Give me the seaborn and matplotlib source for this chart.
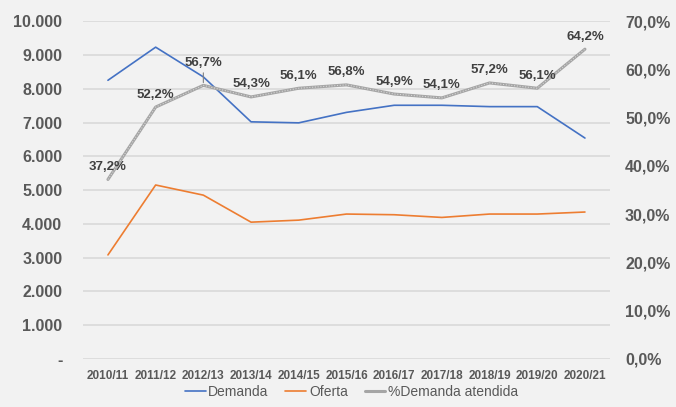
import seaborn as sns
import matplotlib.pyplot as plt
from matplotlib.lines import Line2D
import numpy as np
import pandas as pd

# Dados
safras = ['2010/11', '2011/12', '2012/13', '2013/14', '2014/15', '2015/16',
          '2016/17', '2017/18', '2018/19', '2019/20', '2020/21']
demanda = [8250, 9230, 8350, 7020, 6990, 7300, 7510, 7510, 7470, 7470, 6540]
oferta = [3080, 5150, 4850, 4050, 4110, 4290, 4270, 4190, 4290, 4290, 4350]
pct_atendida = [37.2, 52.2, 56.7, 54.3, 56.1, 56.8, 54.9, 54.1, 57.2, 56.1, 64.2]

left_ticks = [0, 1000, 2000, 3000, 4000, 5000, 6000, 7000, 8000, 9000, 10000]
left_labels = ['-', '1.000', '2.000', '3.000', '4.000', '5.000',
               '6.000', '7.000', '8.000', '9.000', '10.000']
right_ticks = [0, 10, 20, 30, 40, 50, 60, 70]
right_labels = ['0,0%', '10,0%', '20,0%', '30,0%', '40,0%', '50,0%', '60,0%', '70,0%']

df = pd.DataFrame({
    'pos': np.arange(len(safras)),
    'Demanda': demanda,
    'Oferta': oferta,
    'pct': pct_atendida,
})

bg = '#f2f2f2'
azul = '#4472c4'
laranja = '#ed7d31'
cinza = '#a5a5a5'
txt = '#595959'

sns.set_style('white', {'axes.grid': False})
plt.rcParams['font.family'] = ['Liberation Sans', 'DejaVu Sans']

fig = plt.figure(figsize=(6.76, 4.07), dpi=100, facecolor=bg)
ax = fig.add_axes([0.123, 0.118, 0.779, 0.830], facecolor=bg)
ax2 = ax.twinx()

# Linhas de grade
for t in left_ticks:
    ax.axhline(t, color='#d9d9d9', lw=1.2, zorder=0)

sns.lineplot(data=df, x='pos', y='Demanda', ax=ax, color=azul, lw=1.2)
sns.lineplot(data=df, x='pos', y='Oferta', ax=ax, color=laranja, lw=1.2)

sns.lineplot(data=df, x='pos', y='pct', ax=ax2, color=cinza, lw=2.2)
sns.lineplot(data=df, x='pos', y='pct', ax=ax2, color='#d6d6d6', lw=0.8,
             linestyle=(0, (1, 1.5)))

ax.set_ylim(0, 10000)
ax2.set_ylim(0, 70)
ax.set_xlim(-0.52, len(safras) - 0.48)

ax.set_xticks(df['pos'])
ax.set_xticklabels(safras, fontsize=8.5, fontweight='bold', color=txt)
ax.set_yticks(left_ticks)
ax.set_yticklabels(left_labels, fontsize=11.5, fontweight='bold', color=txt)
ax2.set_yticks(right_ticks)
ax2.set_yticklabels(right_labels, fontsize=11.5, fontweight='bold', color=txt)

ax.tick_params(axis='x', length=0, pad=8)
ax.tick_params(axis='y', length=0, pad=15)
ax2.tick_params(axis='y', length=0, pad=11)
ax.set_xlabel('')
ax.set_ylabel('')
ax2.set_ylabel('')

for a in (ax, ax2):
    for s in a.spines.values():
        s.set_visible(False)

# Rótulos dos percentuais
for i, v in enumerate(pct_atendida):
    off = 16 if i == 2 else 9
    ax2.annotate(f'{v:.1f}%'.replace('.', ','), (i, v),
                 xytext=(0, off), textcoords='offset points',
                 ha='center', va='center', fontsize=9.5, fontweight='bold',
                 color='#404040')
# Linha guia do rótulo 56,7%
ax2.annotate('', (2, pct_atendida[2]), xytext=(0, 11), textcoords='offset points',
             arrowprops=dict(arrowstyle='-', color='#808080', lw=0.8))

handles = [
    Line2D([], [], color=azul, lw=1.2),
    Line2D([], [], color=laranja, lw=1.2),
    Line2D([], [], color=cinza, lw=2.2),
]
fig.legend(handles, ['Demanda', 'Oferta', '%Demanda atendida'],
           loc='lower center', bbox_to_anchor=(0.52, -0.01), ncol=3,
           frameon=False, fontsize=10, handlelength=1.5, handletextpad=0.2,
           columnspacing=1.2, labelcolor=txt)

plt.savefig('out.png', dpi=100, facecolor=bg)
